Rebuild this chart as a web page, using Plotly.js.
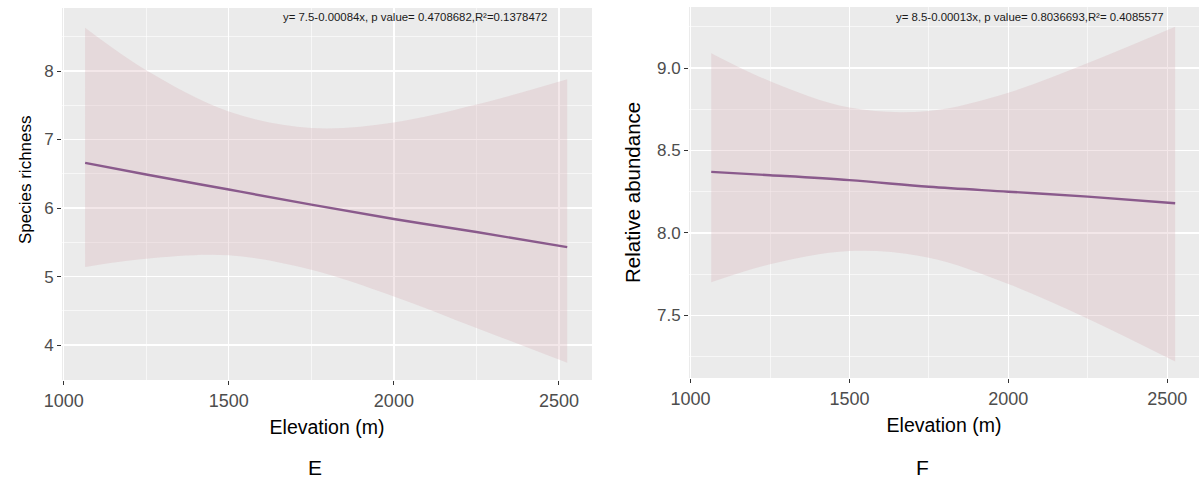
<!DOCTYPE html>
<html>
<head>
<meta charset="utf-8">
<script src="https://cdn.plot.ly/plotly-3.0.1.min.js"></script>
<style>html,body{margin:0;padding:0;background:#fff;}#chart{width:1202px;height:479px;}</style>
</head>
<body>
<div id="chart"></div>
<script>
// Panel E: species richness vs elevation
const elevE = [1065, 1250, 1500, 1750, 2000, 2250, 2525];
const fitE = [6.66, 6.49, 6.27, 6.05, 5.84, 5.65, 5.43];
const upperE = [8.63, 8.01, 7.41, 7.17, 7.25, 7.51, 7.88];
const lowerE = [5.14, 5.26, 5.31, 5.10, 4.71, 4.25, 3.74];
const eqE = "y= 7.5-0.00084x, p value= 0.4708682,R²=0.1378472";

// Panel F: relative abundance vs elevation
const elevF = [1065, 1250, 1500, 1750, 2000, 2250, 2525];
const fitF = [8.37, 8.35, 8.32, 8.28, 8.25, 8.22, 8.18];
const upperF = [9.09, 8.92, 8.76, 8.74, 8.85, 9.03, 9.25];
const lowerF = [7.70, 7.81, 7.89, 7.85, 7.69, 7.48, 7.22];
const eqF = "y= 8.5-0.00013x, p value= 0.8036693,R²= 0.4085577";

const xTitle = "Elevation (m)";
const yTitleE = "Species richness";
const yTitleF = "Relative abundance";
const panelLabels = ["E", "F"];

const ribbonFill = "rgba(215,175,182,0.30)";
const lineColor = "#8a5a8c";

function band(x, lo, hi, xa, ya) {
  return [
    {x: x, y: lo, xaxis: xa, yaxis: ya, type: "scatter", mode: "lines",
     line: {width: 0, shape: "spline", color: "rgba(0,0,0,0)"}, hoverinfo: "skip", showlegend: false},
    {x: x, y: hi, xaxis: xa, yaxis: ya, type: "scatter", mode: "lines", fill: "tonexty",
     fillcolor: ribbonFill, line: {width: 0, shape: "spline", color: "rgba(0,0,0,0)"},
     hoverinfo: "skip", showlegend: false}
  ];
}
function fitLine(x, y, xa, ya) {
  return {x: x, y: y, xaxis: xa, yaxis: ya, type: "scatter", mode: "lines",
    line: {color: lineColor, width: 2.4, shape: "spline"}, showlegend: false};
}

const data = [].concat(
  band(elevE, lowerE, upperE, "x", "y"),
  [fitLine(elevE, fitE, "x", "y")],
  band(elevF, lowerF, upperF, "x2", "y2"),
  [fitLine(elevF, fitF, "x2", "y2")]
);

const font = "Liberation Sans, Arial, sans-serif";
function xax(domain, anchor) {
  return {
    domain: domain, anchor: anchor, range: [995, 2600], tickvals: [1000, 1500, 2000, 2500],
    showgrid: true, gridcolor: "#ffffff", gridwidth: 1.3,
    minor: {tickvals: [1250, 1750, 2250], showgrid: true, gridcolor: "#ffffff", gridwidth: 0.6, ticks: ""},
    zeroline: false, showline: false,
    ticks: "outside", ticklen: 4, tickcolor: "#333333", tickwidth: 1,
    tickfont: {family: font, size: 18, color: "#4d4d4d"},
    title: {text: xTitle, font: {family: font, size: 19.5, color: "#000"}, standoff: 10},
    fixedrange: true
  };
}
function yax(domain, range, tickvals, ticktext, minorvals, anchor) {
  return {
    domain: domain, range: range, tickvals: tickvals, ticktext: ticktext,
    anchor: anchor,
    showgrid: true, gridcolor: "#ffffff", gridwidth: 1.3,
    minor: {tickvals: minorvals, showgrid: true, gridcolor: "#ffffff", gridwidth: 0.6, ticks: ""},
    zeroline: false, showline: false,
    ticks: "outside", ticklen: 4, tickcolor: "#333333", tickwidth: 1,
    tickfont: {family: font, size: 17, color: "#4d4d4d"},
    fixedrange: true
  };
}

const layout = {
  width: 1202, height: 479,
  margin: {l: 0, r: 0, t: 0, b: 0},
  paper_bgcolor: "#ffffff",
  plot_bgcolor: "#ebebeb",
  showlegend: false,
  xaxis: xax([62/1202, 592/1202], "y"),
  yaxis: yax([1 - 380/479, 1 - 8/479], [3.49, 8.92], [4, 5, 6, 7, 8], ["4", "5", "6", "7", "8"],
             [3.5, 4.5, 5.5, 6.5, 7.5, 8.5], "x"),
  xaxis2: xax([689/1202, 1199/1202], "y2"),
  yaxis2: yax([1 - 378/479, 1 - 7/479], [7.12, 9.37], [7.5, 8.0, 8.5, 9.0], ["7.5", "8.0", "8.5", "9.0"],
              [7.25, 7.75, 8.25, 8.75, 9.25], "x2"),
  annotations: [
    {text: yTitleE, xref: "paper", yref: "paper", x: 25/1202, y: 1 - 180/479, textangle: -90, showarrow: false,
     xanchor: "center", yanchor: "middle", font: {family: font, size: 17, color: "#000"}},
    {text: yTitleF, xref: "paper", yref: "paper", x: 632/1202, y: 1 - 193/479, textangle: -90, showarrow: false,
     xanchor: "center", yanchor: "middle", font: {family: font, size: 20.5, color: "#000"}},
    {text: eqE, xref: "paper", yref: "paper", x: 415/1202, y: 1 - 17/479, showarrow: false,
     xanchor: "center", yanchor: "middle", font: {family: font, size: 11.4, color: "#1a1a1a"}},
    {text: eqF, xref: "paper", yref: "paper", x: 1030/1202, y: 1 - 17/479, showarrow: false,
     xanchor: "center", yanchor: "middle", font: {family: font, size: 11.4, color: "#1a1a1a"}},
    {text: panelLabels[0], xref: "paper", yref: "paper", x: 315/1202, y: 1 - 467/479, showarrow: false,
     xanchor: "center", yanchor: "middle", font: {family: font, size: 21, color: "#000"}},
    {text: panelLabels[1], xref: "paper", yref: "paper", x: 922/1202, y: 1 - 467/479, showarrow: false,
     xanchor: "center", yanchor: "middle", font: {family: font, size: 21, color: "#000"}}
  ]
};

Plotly.newPlot("chart", data, layout, {displayModeBar: false, staticPlot: true});
</script>
</body>
</html>
